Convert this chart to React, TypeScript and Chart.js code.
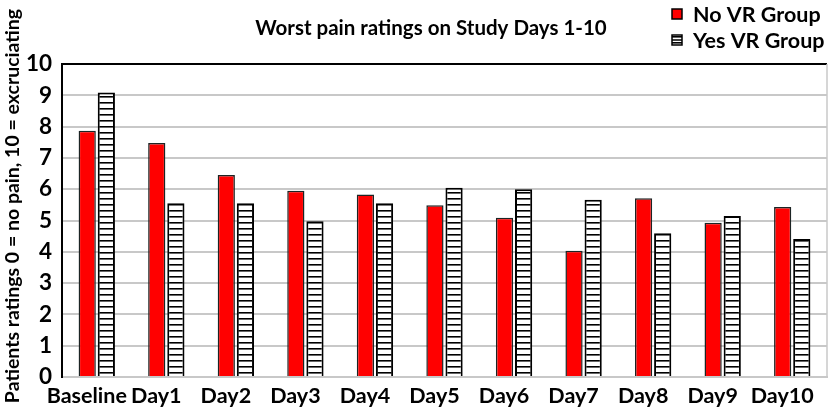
import React, { useEffect, useRef } from "react";
import { Chart, registerables } from "chart.js";

Chart.register(...registerables);

const categories = ["Baseline", "Day1", "Day2", "Day3", "Day4", "Day5", "Day6", "Day7", "Day8", "Day9", "Day10"];
const noVR = [7.87, 7.48, 6.45, 5.95, 5.83, 5.49, 5.09, 4.03, 5.71, 4.93, 5.43];
const yesVR = [9.09, 5.55, 5.55, 4.98, 5.55, 6.05, 6.0, 5.66, 4.59, 5.14, 4.41];
const yTicks = [0, 1, 2, 3, 4, 5, 6, 7, 8, 9, 10];
const chartTitle = "Worst pain ratings on Study Days 1-10";
const yTitle = "Patients ratings 0 = no pain, 10 = excruciating";
const seriesNames = ["No VR Group", "Yes VR Group"];

const FONT = "Lato, 'Open Sans', sans-serif";

function makeStripe(): CanvasPattern | string {
  const c = document.createElement("canvas");
  c.width = 8;
  c.height = 6;
  const g = c.getContext("2d");
  if (!g) return "#fff";
  g.fillStyle = "#ffffff";
  g.fillRect(0, 0, 8, 6);
  g.fillStyle = "#000000";
  g.fillRect(0, 0, 8, 1.6);
  const p = g.createPattern(c, "repeat");
  return p || "#fff";
}

export default function App() {
  const ref = useRef<HTMLCanvasElement | null>(null);
  useEffect(() => {
    document.body.style.margin = "0";
    const canvas = ref.current;
    if (!canvas) return;
    const stripe = makeStripe();

    const decor = {
      id: "decor",
      afterDraw(chart: any) {
        const ctx = chart.ctx;
        const a = chart.chartArea;
        ctx.save();
        ctx.strokeStyle = "#000";
        ctx.lineWidth = 2;
        ctx.beginPath();
        ctx.moveTo(a.left - 1, a.top);
        ctx.lineTo(a.right, a.top);
        ctx.stroke();
        ctx.strokeStyle = "#c8c8c8";
        ctx.lineWidth = 1.5;
        ctx.beginPath();
        ctx.moveTo(a.right, a.top);
        ctx.lineTo(a.right, a.bottom);
        ctx.stroke();
        ctx.fillStyle = "#000";
        ctx.font = `bold 20.5px ${FONT}`;
        ctx.textAlign = "center";
        ctx.textBaseline = "middle";
        ctx.fillText(chartTitle, 431, 28);
        ctx.save();
        ctx.translate(13, 206);
        ctx.rotate(-Math.PI / 2);
        ctx.font = `bold 19.5px ${FONT}`;
        ctx.fillText(yTitle, 0, 0);
        ctx.restore();
        const ds = chart.data.datasets;
        const rows = [14, 40];
        ctx.textAlign = "left";
        ctx.font = `bold 21.5px ${FONT}`;
        ds.forEach((d: any, i: number) => {
          const y = rows[i];
          ctx.fillStyle = d.backgroundColor;
          ctx.fillRect(672, y - 5, 10, 10);
          ctx.strokeStyle = "#000";
          ctx.lineWidth = 1.5;
          ctx.strokeRect(672, y - 5, 10, 10);
          if (i === 1) {
            ctx.beginPath();
            ctx.moveTo(672, y);
            ctx.lineTo(682, y);
            ctx.stroke();
          }
          ctx.fillStyle = "#000";
          ctx.fillText(d.label, 693, y + 1);
        });
        ctx.restore();
      },
    };

    const chart = new Chart(canvas, {
      type: "bar",
      data: {
        labels: categories,
        datasets: [
          {
            label: seriesNames[0],
            data: noVR,
            backgroundColor: "#ff0000",
            borderColor: "#1c2424",
            borderWidth: 1.5,
            categoryPercentage: 0.55,
            barPercentage: 0.9,
          },
          {
            label: seriesNames[1],
            data: yesVR,
            backgroundColor: stripe as any,
            borderColor: "#000000",
            borderWidth: 2,
            categoryPercentage: 0.55,
            barPercentage: 0.9,
          },
        ],
      },
      options: {
        responsive: false,
        animation: false,
        layout: { padding: { top: 64, right: 9, left: 0, bottom: 0 } },
        plugins: {
          legend: { display: false },
          title: { display: false },
          tooltip: { enabled: false },
        },
        scales: {
          x: {
            grid: { display: false, drawTicks: false },
            border: { color: "#c8c8c8", width: 2 },
            ticks: {
              color: "#000",
              font: { family: FONT, size: 21.5, weight: "bold" },
              padding: 6,
              labelOffset: -10,
              maxRotation: 0,
              autoSkip: false,
            },
            afterFit: (s: any) => {
              s.height = 36;
            },
          },
          y: {
            min: 0,
            max: 10,
            afterBuildTicks: (s: any) => {
              s.ticks = yTicks.map((v) => ({ value: v }));
            },
            grid: {
              drawTicks: false,
              color: (c: any) => (c.tick && c.tick.value === 10 ? "rgba(0,0,0,0)" : "#c8c8c8"),
              lineWidth: 2,
            },
            border: { color: "#000", width: 2 },
            ticks: {
              color: "#000",
              font: { family: FONT, size: 22.5, weight: "bold" },
              padding: 10,
            },
            afterFit: (s: any) => {
              s.width = 62;
            },
          },
        },
      },
      plugins: [decor],
    });
    return () => chart.destroy();
  }, []);
  return <canvas ref={ref} width={836} height={413} style={{ display: "block" }} />;
}
